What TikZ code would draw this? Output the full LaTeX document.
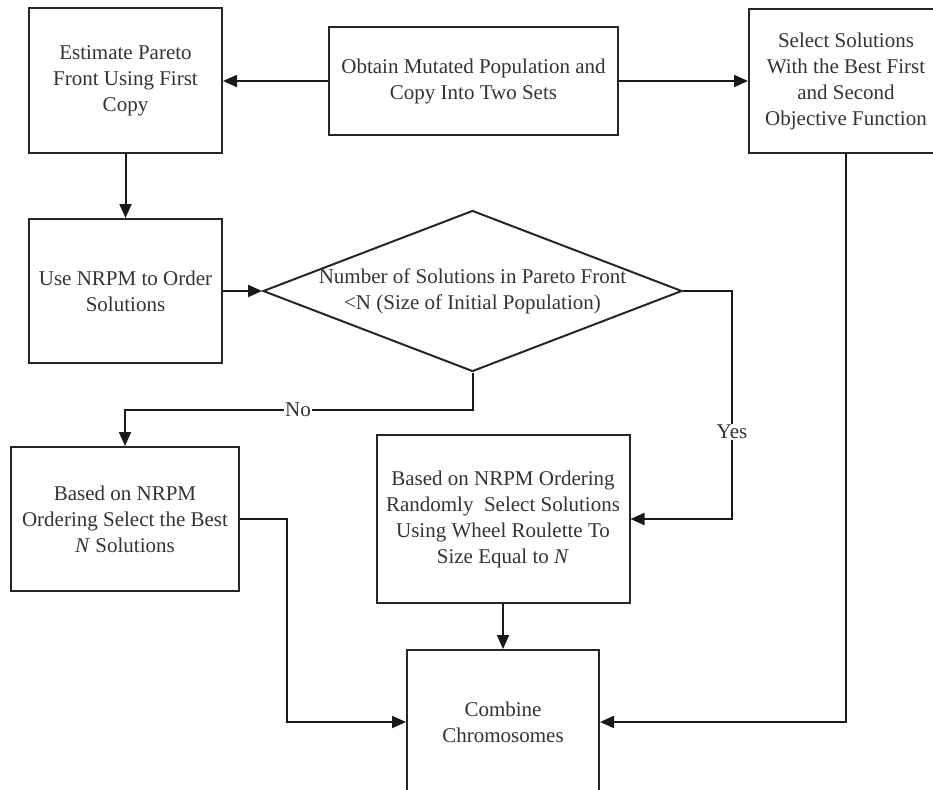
\documentclass[tikz,border=0pt]{standalone}
\usepackage{fontspec}
\setmainfont{Liberation Serif}
\usetikzlibrary{shapes.geometric,arrows.meta}
\begin{document}
\begin{tikzpicture}[x=1pt,y=-1pt,
  txt/.style={text=black!80, font=\fontsize{21}{26}\selectfont, align=center},
  box/.style={draw=black!85, line width=2pt, rectangle, inner sep=0pt, txt},
  conn/.style={draw=black!90, line width=2pt},
  arr/.style={conn, -{Triangle[length=14pt,width=12pt]}},
  lbl/.style={fill=white, inner sep=1pt, txt}]
\useasboundingbox (0,0) rectangle (933,789);
\clip (0,0) rectangle (933,789);
\node[box, minimum width=193pt, minimum height=145pt] (A) at (125.5,80.5)
  {Estimate Pareto\\Front Using First\\Copy};
\node[box, minimum width=289pt, minimum height=108pt] (B) at (473.5,81)
  {Obtain Mutated Population and\\Copy Into Two Sets};
\node[box, minimum width=194pt, minimum height=144pt] (C) at (846,81)
  {Select Solutions\\With the Best First\\and Second\\Objective Function};
\node[box, minimum width=193pt, minimum height=144pt] (D) at (125.5,291)
  {Use NRPM to Order\\Solutions};
\node[draw=black!85, line width=2pt, diamond, minimum width=419pt, minimum height=161pt, inner sep=0pt] (Q) at (472.5,291) {};
\node[txt] (Qt) at (Q.center) {Number of Solutions in Pareto Front\\<N (Size of Initial Population)};
\node[box, minimum width=228pt, minimum height=144pt] (E) at (125,519)
  {Based on NRPM\\Ordering Select the Best\\\textit{N} Solutions};
\node[box, minimum width=253pt, minimum height=168pt] (F) at (503,519)
  {Based on NRPM Ordering\\Randomly\ \ Select Solutions\\Using Wheel Roulette To\\Size Equal to \textit{N}};
\node[box, minimum width=192pt, minimum height=144pt] (G) at (503,722)
  {Combine\\Chromosomes};

\coordinate (n1) at (472.5,410);
\coordinate (y1) at (732,291);
\coordinate (e1) at (287,519);
\coordinate (c1) at (846,722);

\draw[arr] (B.west) -- (A.east |- B.west);
\draw[arr] (B.east) -- (C.west |- B.east);
\draw[arr] (A.south) -- (D.north);
\draw[arr] (D.east) -- (Q.west);
\draw[arr] (Q.south) -- (n1) -| (E.north);
\node[lbl] (no) at (298,410) {No};
\draw[arr] (Q.east) -- (y1) |- (F.east);
\node[lbl] (yes) at (732,432) {Yes};
\draw[arr] (E.east) -- (e1) |- (G.west);
\draw[arr] (F.south) -- (G.north);
\draw[arr] (C.south) -- (c1) -- (G.east);
\end{tikzpicture}
\end{document}
